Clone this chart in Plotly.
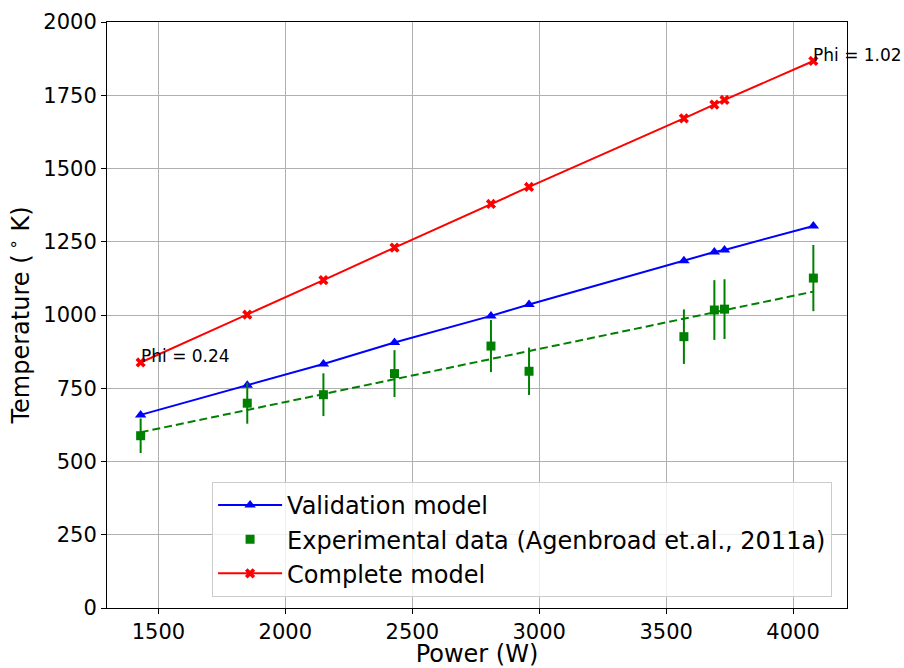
import numpy as np
import plotly.graph_objects as go

power = [1430, 1850, 2150, 2430, 2810, 2960, 3570, 3690, 3730, 4080]
validation = [659, 760, 833, 906, 997, 1036, 1185, 1215, 1222, 1304]
experimental = [588, 699, 728, 800, 894, 808, 926, 1017, 1020, 1126]
exp_error = [59, 70, 73, 80, 89, 81, 93, 102, 102, 113]
complete = [838, 1001, 1119, 1230, 1379, 1437, 1671, 1718, 1734, 1867]
x_ticks = [1500, 2000, 2500, 3000, 3500, 4000]
y_ticks = [0, 250, 500, 750, 1000, 1250, 1500, 1750, 2000]

coef = np.polyfit(power, experimental, 1)
fit = np.polyval(coef, power)

FONT = "DejaVu Sans"
fig = go.Figure()

fig.add_trace(go.Scatter(
    x=power, y=validation, mode="lines+markers", name="Validation model",
    line=dict(color="blue", width=2),
    marker=dict(symbol="triangle-up", size=10, color="blue"),
    legendgroup="a"))
fig.add_trace(go.Scatter(
    x=power, y=experimental, mode="markers",
    name="Experimental data (Agenbroad et.al., 2011a)",
    marker=dict(symbol="square", size=9, color="green"),
    error_y=dict(type="data", array=exp_error, color="green", thickness=2, width=0),
    legendgroup="b"))
fig.add_trace(go.Scatter(
    x=power, y=fit, mode="lines", showlegend=False,
    line=dict(color="green", width=2, dash="8px,4px"), legendgroup="b"))
fig.add_trace(go.Scatter(
    x=power, y=complete, mode="lines+markers", name="Complete model",
    line=dict(color="red", width=2),
    marker=dict(symbol="x", size=9, color="red"),
    legendgroup="c"))

fig.add_annotation(x=power[0], y=complete[0], text="Phi = 0.24", showarrow=False,
                   xanchor="left", yanchor="bottom", yshift=-6, xshift=-2,
                   font=dict(family=FONT, size=17, color="black"))
fig.add_annotation(x=power[-1], y=complete[-1], text="Phi = 1.02", showarrow=False,
                   xanchor="left", yanchor="bottom", yshift=-6, xshift=-2,
                   font=dict(family=FONT, size=17, color="black"))

axis_common = dict(
    showline=True, linecolor="black", linewidth=1, mirror=True,
    ticks="outside", ticklen=5, tickcolor="black", tickwidth=1,
    showgrid=True, gridcolor="#b0b0b0", gridwidth=1, zeroline=False,
    tickfont=dict(family=FONT, size=21, color="black"),
    automargin=False,
)
fig.update_xaxes(range=[1297.5, 4212.5], tickvals=x_ticks,
                 title=dict(text="Power (W)", font=dict(family=FONT, size=24, color="black"), standoff=6),
                 **axis_common)
fig.update_yaxes(range=[0, 2000], tickvals=y_ticks,
                 title=dict(text="Temperature (\u2009<sup>\u2218</sup> K)", font=dict(family=FONT, size=24, color="black"), standoff=6),
                 **axis_common)

fig.update_layout(
    width=904, height=668,
    margin=dict(l=107, r=57, t=22, b=60),
    plot_bgcolor="white", paper_bgcolor="white",
    font=dict(family=FONT, color="black"),
    legend=dict(x=0.142, y=0.019, xanchor="left", yanchor="bottom",
                bgcolor="rgba(255,255,255,0.8)", bordercolor="#cccccc", borderwidth=1,
                font=dict(family=FONT, size=24, color="black"),
                itemwidth=64, tracegroupgap=0, traceorder="grouped"),
    showlegend=True,
)

fig.write_html("out.html")
